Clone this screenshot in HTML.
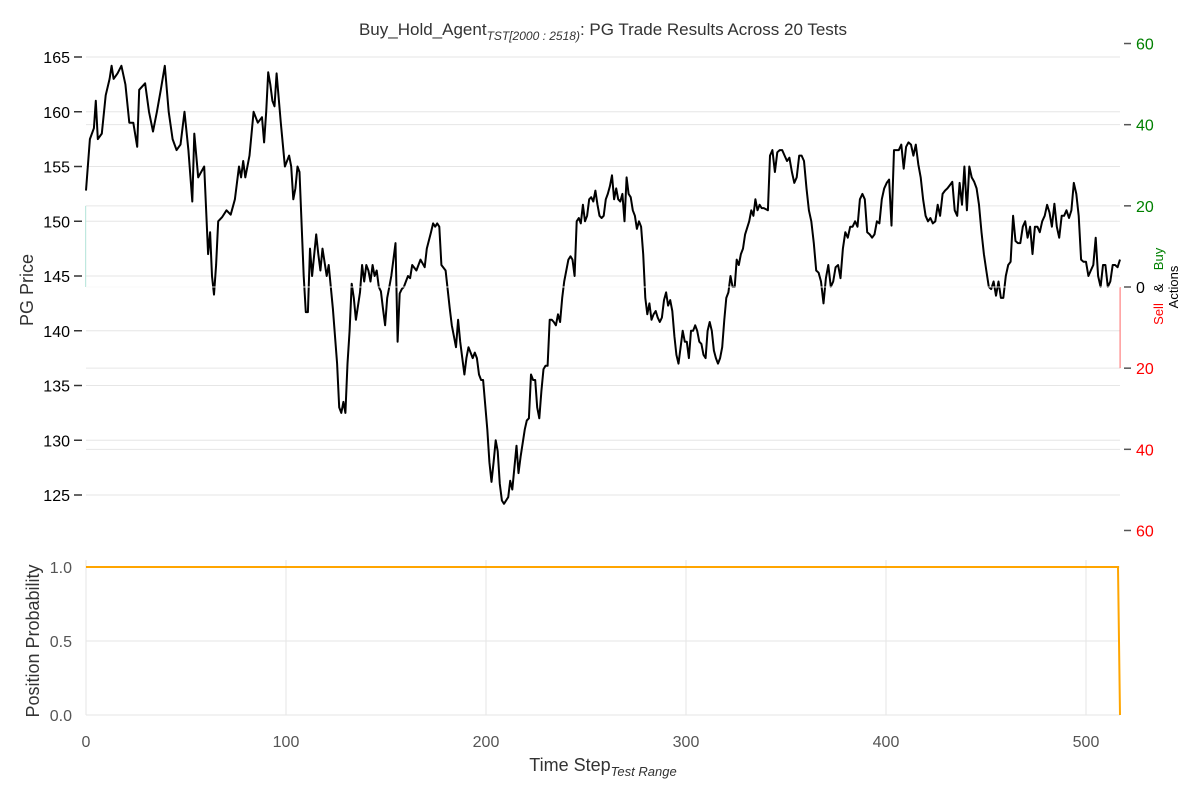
<!DOCTYPE html>
<html><head><meta charset="utf-8">
<style>
html,body{margin:0;padding:0;background:#fff;}
svg{display:block;font-family:"Liberation Sans",sans-serif;}
</style></head>
<body>
<svg id="chart" width="1200" height="800" viewBox="0 0 1200 800"></svg>
<script>
// ---- data ----
const priceSteps = [0,2,4,5,6,8,10,12,13,14,16,18,20,22,24,26,27,30,32,34,36,38,40,42,44,46,48,50,52,54,55,57,60,62,63,64,65,66,67,69,71,73,75,77,78,79,80,82,84,86,88,89,90,91,92,93,94,95,97,99,101,102,103,104,105,106,108,109,110,111,112,114,115,116,117,119,120,122,124,125,126,127,128,129,130,131,132,133,135,136,137,138,139,140,141,142,143,144,145,146,147,148,149,150,151,152,153,154,155,156,157,158,159,160,162,164,166,167,169,170,171,172,173,174,176,178,179,180,181,182,183,184,185,186,187,188,189,190,191,192,193,194,196,197,198,199,200,201,202,203,204,206,207,208,209,210,211,212,214,215,216,217,218,219,220,221,222,223,224,225,226,227,228,229,230,231,232,233,234,235,236,237,238,239,240,241,242,243,244,245,246,247,248,249,250,251,252,253,254,255,256,257,258,259,260,261,262,263,264,265,266,267,268,269,270,271,272,273,274,275,276,277,278,279,280,281,282,283,284,285,286,287,288,289,290,291,292,293,294,295,296,297,298,299,300,301,302,303,304,305,306,307,308,309,310,311,312,313,314,315,316,317,318,319,320,322,323,324,325,326,327,328,329,331,332,333,334,335,336,337,338,339,340,341,342,343,344,345,346,347,348,349,350,351,352,353,354,355,356,357,358,359,360,361,362,363,364,365,366,367,368,369,370,371,372,373,374,375,376,377,378,379,380,381,382,383,384,385,386,387,388,389,390,391,392,393,394,395,396,397,398,399,400,401,402,403,404,405,406,407,408,409,410,411,412,413,414,415,416,417,418,419,420,421,422,423,424,425,426,427,428,429,430,431,432,433,434,435,436,437,438,439,440,441,442,443,444,445,446,447,448,449,450,451,452,453,454,455,456,457,458,459,460,461,462,463,464,465,466,467,468,469,470,471,472,473,474,475,476];
const priceValues = [152.8,157.5,158.5,161,157.5,158,161.5,163,164.2,163,163.5,164.2,162.5,159,159,156.8,162,162.6,160,158.2,160,162,164.2,160,157.5,156.5,157,160,156.5,151.8,158,154,155,147,149,145,143.3,146,150,150.4,151,150.6,152,155,154,155.5,154,156,160,159,159.5,157.2,160,163.6,162.5,161,160.5,163.5,159,155,156,155,152,153,155,154.5,145,141.7,141.7,147.5,145,148.8,147,145.5,147.5,145,146,142,137,133,132.5,133.5,132.5,137,140,144.3,143,141,143.5,146,144.5,146,145.5,144.5,146,145,145.5,144,143.6,142,140.5,143,144,145,146.5,148,139,143.4,143.8,144,144.5,145,144.8,146,145.5,146.5,145.8,147.5,149,149.8,149.5,149.8,149.5,146,145.5,142,140.5,139.5,138.5,141,139,137.5,136,137.5,138.5,138,137.5,138,137.5,136,135.5,135.5,131,128,126.2,128,130,129,126,124.5,124.2,124.8,126.3,125.5,127.5,129.5,127,128.5,131,131.8,132,136,135.5,135.5,133,132,134.5,136.5,136.8,136.8,141,141,140.8,140.5,141.5,140.8,143,144.5,145.5,146.5,146.8,146.5,145,150,150.3,149.8,151.5,150,150.5,152,152.2,151.8,152.8,151.5,150.5,150.3,150.5,152,152.5,153.2,154.2,152,153,152,151.8,152.5,150,154,152.5,152.2,151,150.5,149.3,150,149.5,147,143,141.5,142.5,141,141.5,141.8,141.2,140.8,141.2,142.8,143.5,142.3,142.8,141.8,139.5,137.8,137,138.5,140,139,139,137.5,140,140,140.5,140,139,138.8,137.8,137.5,140,140.8,140,138.2,137.5,137,137.5,138.5,141,143,143.5,145,144,144,146.5,146,147,147.5,148.8,150,151,150.5,152,151,151.5,151.2,151.2,151,156,156.5,154.5,156.3,156.5,156.5,156,155.5,155.8,154.5,153.5,154,156,156,155.5,153,151,150,148,145.5,145.3,144.5,142.5,144.8,146,144,144.5,145.8,146,144.8,147.5,149,148.5,149.5,149.5,150,149.5,152,152.5,152,149,148.8,148.5,148.8,150,149.8,152,153,153.5,153.8,149.6,156.5,156.5,156.5,157,154.8,156.8,157.2,157,156,157,155.2,154,152,150.5,150,150.3,149.8,150,151.5,150.5,152.5,152.8,153,153.3,153.6,151,150.5,153.5,151.5,155,151,155,154,153.6,153,151.5,149,147,145.5,144,143.8,144.5,143.2,144.5,143,143,145,146,146.3,150.5,148.2,148,148,149.5,150,148.5,149.5,147,149.5,149.5,149,150,150.5,151.5,150.8,149.5,151.6,149.5,148.5,150.5,150.5,151,150.3,151,153.5,152.5,150.5,146.5,146.3,146.3,145,145.5,146,148.5,145,144,146,146,144,144.5,146,146,145.8,146.5];
// calibration knots (listed step -> test step)
const calibFrom = [0,65,204,256,332,476];
const calibTo = [0,64,209,263,342,517];
const posSteps = [0,516];
const posValues = [1.0,1.0];
const posEndSteps = [516,517];
const posEndValues = [1.0,0.0];
const xTicks = [0,100,200,300,400,500];
const priceTicks = [125,130,135,140,145,150,155,160,165];
const actionTicks = [60,40,20,0,-20,-40,-60];
const probTicks = [0.0,0.5,1.0];

// ---- scales ----
const X0=86, XPX=2.0;
const xs = s => X0 + s*XPX;
const yPrice = v => 57 + (165-v)*10.95;
const yAct = v => 287 - v*4.058;
const yProb = v => 715 - v*148;
const calib = s => { for(let i=1;i<calibFrom.length;i++){ if(s<=calibFrom[i]){const a=calibFrom[i-1],b=calibFrom[i];return calibTo[i-1]+(s-a)*(calibTo[i]-calibTo[i-1])/(b-a);} } return calibTo[calibTo.length-1]; };

const svg=document.getElementById('chart');
const NS='http://www.w3.org/2000/svg';
function mk(tag,attrs,parent){const e=document.createElementNS(NS,tag);for(const k in attrs)e.setAttribute(k,attrs[k]);(parent||svg).appendChild(e);return e;}

priceTicks.forEach(t=>{
  const l=mk('line',{x1:86,x2:1120,y1:yPrice(t),y2:yPrice(t),stroke:'#e6e6e6','stroke-width':1});
  
  
  const tk=mk('line',{x1:74,x2:82,y1:yPrice(t),y2:yPrice(t),stroke:'#333','stroke-width':1.5});
  
  
  const tx=mk('text',{x:70,y:yPrice(t)+6,'text-anchor':'end','font-size':16,fill:'#000'});
  tx.textContent=t;
  
  
});
actionTicks.forEach(t=>{
  const y=yAct(t);
  if(Math.abs(t)<60){
    const l=mk('line',{x1:86,x2:1120,y1:y,y2:y,stroke:'#e6e6e6','stroke-width':1});
    
    
  }
  const tk=mk('line',{x1:1124,x2:1131,y1:y,y2:y,stroke:'#555','stroke-width':1.5});
  
  
  const tx=mk('text',{x:1136,y:y+6,'font-size':16,fill:t>0?'#008000':(t<0?'#ff0000':'#000')});
  tx.textContent=Math.abs(t);
  
  
});
const buyBar=mk('rect',{x:85,y:yAct(20),width:1.2,height:yAct(0)-yAct(20),fill:'#bfe8df'});


const sellBar=mk('rect',{x:1119.5,y:yAct(0),width:1.2,height:yAct(-20)-yAct(0),fill:'#ff8080'});



const pts=priceSteps.map((s,i)=>xs(calib(s)).toFixed(1)+','+yPrice(priceValues[i]).toFixed(1)).join(' ');
const pl=mk('polyline',{points:pts,fill:'none',stroke:'#000','stroke-width':2,'stroke-linejoin':'round'});


const zl=mk('line',{x1:86,x2:1120,y1:yAct(0),y2:yAct(0),stroke:'#fff','stroke-width':1,'stroke-opacity':0.8});



probTicks.forEach(t=>{
  const l=mk('line',{x1:86,x2:1120,y1:yProb(t),y2:yProb(t),stroke:'#e6e6e6','stroke-width':1});
  
  
  const tx=mk('text',{x:72,y:yProb(t)+6,'text-anchor':'end','font-size':16,fill:'#555'});
  tx.textContent=t.toFixed(1);
  
  
});
xTicks.forEach(t=>{
  const l=mk('line',{x1:xs(t),x2:xs(t),y1:560,y2:715,stroke:'#e6e6e6','stroke-width':1});
  
  
  const tx=mk('text',{x:xs(t),y:747,'text-anchor':'middle','font-size':16,fill:'#555'});
  tx.textContent=t;
  
  
});
const pp=posSteps.map((s,i)=>xs(s)+','+yProb(posValues[i])).join(' ')+' '+posEndSteps.map((s,i)=>xs(s)+','+yProb(posEndValues[i])).join(' ');
const pline=mk('polyline',{points:pp,fill:'none',stroke:'#ffa500','stroke-width':2});


</script>
<svg width="1200" height="800" style="position:absolute;left:0;top:0">
  <text x="603" y="35" text-anchor="middle" font-size="17" fill="#333" font-family="Liberation Sans, sans-serif">Buy_Hold_Agent<tspan font-size="12" dy="5" font-style="italic">TST[2000 : 2518)</tspan><tspan dy="-5">: PG Trade Results Across 20 Tests</tspan></text>
  <text transform="translate(33,290) rotate(-90)" text-anchor="middle" font-size="18" fill="#333" font-family="Liberation Sans, sans-serif">PG Price</text>
  <text transform="translate(39,641) rotate(-90)" text-anchor="middle" font-size="18" fill="#333" font-family="Liberation Sans, sans-serif">Position Probability</text>
  <text x="603" y="771" text-anchor="middle" font-size="18" fill="#333" font-family="Liberation Sans, sans-serif">Time Step<tspan font-size="13" dy="5" font-style="italic">Test Range</tspan></text>
  <g transform="translate(1163,287) rotate(-90)" font-family="Liberation Sans, sans-serif" font-size="13">
    <text x="-27" y="0" text-anchor="middle" fill="#ff0000">Sell</text>
    <text x="-1" y="0" text-anchor="middle" fill="#000">&amp;</text>
    <text x="28" y="0" text-anchor="middle" fill="#008000">Buy</text>
    <text x="0" y="15" text-anchor="middle" fill="#000">Actions</text>
  </g>
</svg>
</body></html>
